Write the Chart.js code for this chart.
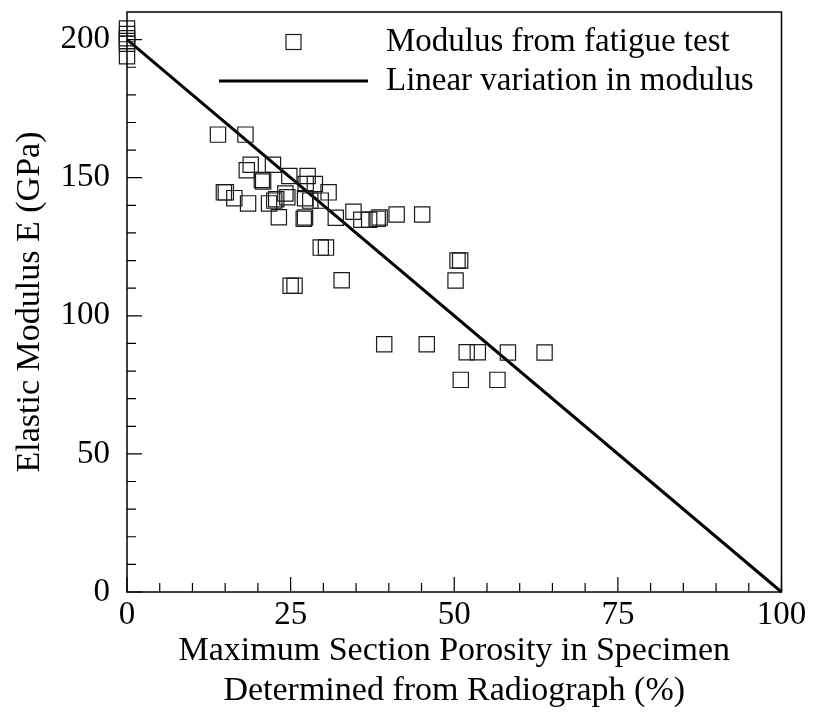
<!DOCTYPE html>
<html><head><meta charset="utf-8">
<script src="https://cdn.jsdelivr.net/npm/chart.js@4"></script>
<style>html,body{margin:0;padding:0;background:#fff}#wrap{width:817px;height:719px}</style>
</head><body><div id="wrap"><canvas id="c" width="817" height="719"></canvas></div>
<script>
const seriesNames = ['Modulus from fatigue test', 'Linear variation in modulus'];
const porosity = [0,0,0,0,0,0, 13.9,18.1, 18.9,18.3,20.8,20.6,22.3, 24.8,27.6,27.3,28.7,30.8,
  14.8,15.1,16.4,18.5,22.5,22.8,21.7,24.2,24.5,27.2,28.0,29.6,
  23.2,27.0,27.2,31.9,34.6,35.8,37.0,38.3,38.6,41.2,45.1,
  29.6,30.4,32.8,25.0,25.6,50.5,50.9,50.2,
  39.3,45.8,51.9,53.6,58.2,63.8,51.0,56.6];
const modulus = [204,202,200.5,199.5,198.5,194, 165.6,165.6, 154.7,152.7,148.6,149.2,154.7, 150.6,150.6,147.7,147.7,144.7,
  144.7,144.7,142.6,140.7,141.7,142.2,140.7,144.3,142.9,142.6,141.7,141.7,
  135.7,135.1,135.6,135.5,137.7,134.8,134.8,135.1,135.6,136.7,136.7,
  124.7,124.7,112.9,110.9,110.9,120,120,112.8,
  89.7,89.7,86.8,86.8,86.7,86.7,76.8,76.8];
const linePorosity = [0, 100];
const lineModulus = [200, 0];
const xTicks = [0, 25, 50, 75, 100];
const yTicks = [0, 50, 100, 150, 200];
const xTitle = ['Maximum Section Porosity in Specimen', 'Determined from Radiograph (%)'];
const yTitle = 'Elastic Modulus E (GPa)';

const FONT = "'Liberation Serif', 'Times New Roman', serif";

const framePlugin = {
  id: 'frameTicksLegend',
  afterDraw(chart) {
    const {ctx, chartArea: a, scales: {x, y}} = chart;
    ctx.save();
    ctx.strokeStyle = '#000';
    ctx.lineWidth = 1.5;
    ctx.strokeRect(a.left, a.top, a.right - a.left, a.bottom - a.top);
    ctx.beginPath();
    for (let v = 0; v <= 100; v += 5) {
      const px = x.getPixelForValue(v);
      const len = v % 25 === 0 ? 15 : 9;
      ctx.moveTo(px, a.bottom); ctx.lineTo(px, a.bottom - len);
    }
    for (let v = 0; v <= 200; v += 10) {
      const py = y.getPixelForValue(v);
      const len = v % 50 === 0 ? 15 : 9;
      ctx.moveTo(a.left, py); ctx.lineTo(a.left + len, py);
    }
    ctx.lineWidth = 1.2;
    ctx.stroke();

    // legend
    const ds = chart.data.datasets;
    const symX = 293.5, textX = 386, rows = [42, 81];
    ctx.font = '33px ' + FONT;
    ctx.fillStyle = '#000';
    ctx.textBaseline = 'middle';
    ctx.textAlign = 'left';
    ctx.strokeStyle = ds[0].borderColor;
    ctx.lineWidth = ds[0].borderWidth;
    ctx.strokeRect(symX - 7.5, rows[0] - 7.5, 15, 15);
    ctx.fillText(ds[0].label, textX, rows[0]);
    ctx.strokeStyle = ds[1].borderColor;
    ctx.lineWidth = ds[1].borderWidth;
    ctx.beginPath();
    ctx.moveTo(symX - 74.5, rows[1]); ctx.lineTo(symX + 74.5, rows[1]);
    ctx.stroke();
    ctx.fillText(ds[1].label, textX, rows[1]);
    ctx.restore();
  }
};

new Chart(document.getElementById('c'), {
  type: 'scatter',
  data: {
    datasets: [
      {
        label: seriesNames[0],
        data: porosity.map((p, i) => ({x: p, y: modulus[i]})),
        pointStyle: 'rect',
        pointRadius: 10.8,
        pointHoverRadius: 10.8,
        backgroundColor: 'rgba(0,0,0,0)',
        borderColor: '#1a1a1a',
        borderWidth: 1.2,
        clip: false
      },
      {
        label: seriesNames[1],
        data: linePorosity.map((p, i) => ({x: p, y: lineModulus[i]})),
        showLine: true,
        pointRadius: 0,
        borderColor: '#000',
        borderWidth: 3,
        clip: false
      }
    ]
  },
  options: {
    responsive: false,
    animation: false,
    devicePixelRatio: 1,
    layout: {padding: {top: 7, right: 35.5, left: 0, bottom: 0}},
    plugins: {legend: {display: false}, tooltip: {enabled: false}},
    scales: {
      x: {
        type: 'linear', min: 0, max: 100,
        afterFit: s => { s.height = 127; s.paddingLeft = 0; s.paddingRight = 0; },
        afterBuildTicks: s => { s.ticks = xTicks.map(v => ({value: v})); },
        grid: {display: false, drawTicks: false},
        border: {display: false},
        ticks: {color: '#000', font: {family: FONT, size: 33}, padding: 4, maxRotation: 0, autoSkip: false},
        title: {display: true, text: xTitle, color: '#000', font: {family: FONT, size: 34, lineHeight: 1.18}, padding: {top: 0, bottom: 8}}
      },
      y: {
        type: 'linear', min: 0, max: 210,
        afterFit: s => { s.width = 127; s.paddingTop = 0; s.paddingBottom = 0; },
        afterBuildTicks: s => { s.ticks = yTicks.map(v => ({value: v})); },
        grid: {display: false, drawTicks: false},
        border: {display: false},
        ticks: {color: '#000', font: {family: FONT, size: 33}, padding: 17},
        title: {display: true, text: yTitle, color: '#000', font: {family: FONT, size: 34, lineHeight: 1.2}, padding: {top: 9.6, bottom: 0}}
      }
    }
  },
  plugins: [framePlugin]
});
</script>
</body></html>
